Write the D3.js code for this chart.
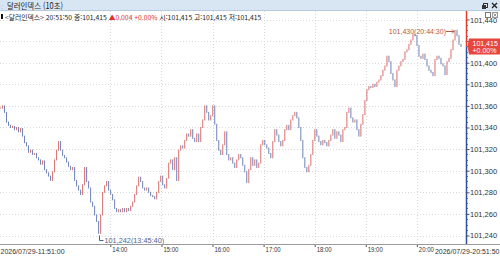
<!DOCTYPE html>
<html lang="ko">
<head>
<meta charset="UTF-8">
<title>달러인덱스 (10초)</title>
<script src="https://cdn.jsdelivr.net/npm/d3@7"></script>
<style>
    body { margin: 0; background: #fff; }
    svg text { font-family: "Liberation Sans", Arial, sans-serif; }
    svg text.kr { font-family: "Noto Sans CJK KR", "Liberation Sans", sans-serif; }
</style>
</head>
<body>
<svg id="chart" width="500" height="256"></svg>
<script>
    var closes = [
        101.358, 101.360, 101.354, 101.345, 101.342, 101.340, 101.341, 101.338, 101.340, 101.336,
        101.339, 101.332, 101.326, 101.323, 101.317, 101.319, 101.315, 101.316, 101.312, 101.310,
        101.306, 101.309, 101.301, 101.298, 101.295, 101.291, 101.299, 101.310, 101.319, 101.327,
        101.319, 101.314, 101.312, 101.308, 101.304, 101.301, 101.303, 101.291, 101.286, 101.282,
        101.278, 101.287, 101.303, 101.290, 101.284, 101.271, 101.267, 101.259, 101.253, 101.242,
        101.259, 101.280, 101.286, 101.290, 101.282, 101.278, 101.273, 101.265, 101.262, 101.264,
        101.262, 101.265, 101.262, 101.265, 101.263, 101.267, 101.271, 101.278, 101.286, 101.294,
        101.290, 101.284, 101.282, 101.284, 101.280, 101.277, 101.276, 101.274, 101.280, 101.290,
        101.295, 101.287, 101.284, 101.293, 101.307, 101.310, 101.301, 101.312, 101.291, 101.319,
        101.323, 101.321, 101.328, 101.334, 101.332, 101.338, 101.330, 101.327, 101.334, 101.327,
        101.340, 101.347, 101.360, 101.354, 101.347, 101.351, 101.360, 101.343, 101.328, 101.319,
        101.315, 101.324, 101.336, 101.315, 101.310, 101.312, 101.307, 101.303, 101.310, 101.315,
        101.312, 101.305, 101.299, 101.289, 101.301, 101.312, 101.305, 101.310, 101.303, 101.307,
        101.324, 101.328, 101.324, 101.321, 101.316, 101.312, 101.327, 101.338, 101.333, 101.327,
        101.323, 101.328, 101.338, 101.342, 101.338, 101.347, 101.351, 101.354, 101.349, 101.340,
        101.328, 101.312, 101.303, 101.299, 101.305, 101.315, 101.328, 101.338, 101.332, 101.327,
        101.324, 101.328, 101.326, 101.323, 101.328, 101.333, 101.338, 101.330, 101.336, 101.333,
        101.327, 101.338, 101.340, 101.354, 101.358, 101.349, 101.345, 101.347, 101.338, 101.332,
        101.343, 101.352, 101.365, 101.375, 101.378, 101.377, 101.380, 101.378, 101.382, 101.384,
        101.388, 101.393, 101.397, 101.406, 101.401, 101.390, 101.384, 101.378, 101.393, 101.397,
        101.401, 101.403, 101.410, 101.412, 101.417, 101.421, 101.426, 101.425, 101.416, 101.406,
        101.404, 101.408, 101.403, 101.397, 101.393, 101.391, 101.388, 101.403, 101.406, 101.404,
        101.399, 101.397, 101.389, 101.401, 101.404, 101.412, 101.421, 101.430, 101.425, 101.417,
        101.415
    ];
    var startTime = "2026-07-29T11:51:00",
        endTime = "2026-07-29T20:51:50";
    var priceTicks = [101.24, 101.26, 101.28, 101.30, 101.32, 101.34, 101.36, 101.38, 101.40, 101.42, 101.44];
    var hourTicks = ["14:00", "15:00", "16:00", "17:00", "18:00", "19:00", "20:00"];
    var endLabels = ["2026/07/29-11:51:00", "2026/07/29-20:51:50"];
    var lowLabel = ["101,242", "13:45:40"],
        highLabel = ["101,430", "20:44:30"];
    var lastInfo = ["101,415", "+0.00%"];
    var infoParts = ["<달러인덱스> 20:51:50 종:101,415 ", "▲0.004 +0.00% ", "시:101,415 고:101,415 저:101,415"];

    var svg = d3.select("#chart");
    var parse = d3.timeParse("%Y-%m-%dT%H:%M:%S");
    var t0 = parse(startTime), t1 = parse(endTime);
    var axisX = 466.5;

    var x = d3.scaleTime().domain([t0, t1]).range([0.5, 461]);
    var y = d3.scaleLinear().domain([101.24, 101.44]).range([235.5, 19.5]);
    var fmt = function(v){ return d3.format(".3f")(v).replace(".", ","); };

    // squeeze text a little to the narrow widths of the original font
    function squeeze(sel, len){
        sel.attr("textLength", len).attr("lengthAdjust", "spacingAndGlyphs");
        return sel;
    }

    // each candle sits at its own time, evenly spaced from first to last
    var step = (t1 - t0) / (closes.length - 1);
    var candles = closes.map(function(c, i){
        return {t: new Date(+t0 + i * step), o: i ? closes[i - 1] : c, c: c};
    });
    var lastY = y(closes[closes.length - 1]);

    // grid
    var grid = svg.append("g").attr("class", "grid");
    grid.selectAll(".hgrid").data(priceTicks).enter().append("line")
        .attr("x1", 0).attr("x2", axisX)
        .attr("y1", function(d){ return Math.round(y(d)) + 0.5; })
        .attr("y2", function(d){ return Math.round(y(d)) + 0.5; })
        .style("stroke", "#d9d9d9").style("stroke-dasharray", "1,2");
    var hourDates = hourTicks.map(function(h){ return parse("2026-07-29T" + h + ":00"); });
    grid.selectAll(".vgrid").data(hourDates).enter().append("line")
        .attr("x1", function(d){ return Math.round(x(d)) + 0.5; })
        .attr("x2", function(d){ return Math.round(x(d)) + 0.5; })
        .attr("y1", 11).attr("y2", 244)
        .style("stroke", "#d9d9d9").style("stroke-dasharray", "1,2");

    // candles
    svg.append("g").selectAll("rect").data(candles).enter().append("rect")
        .attr("x", function(d){ return x(d.t) - 0.5; })
        .attr("width", 1)
        .attr("y", function(d){ return y(Math.max(d.o, d.c)) - 0.5; })
        .attr("height", function(d){ return Math.max(1, Math.abs(y(d.o) - y(d.c)) + 1); })
        .style("fill", function(d){ return d.c >= d.o ? "#cf4c4c" : "#4a64a6"; })
        .style("fill-opacity", 0.8);

    // low / high marks
    var lowD = candles[d3.minIndex(candles, function(d){ return d.c; })];
    var lx = Math.round(x(lowD.t)) + 0.5;
    svg.append("path")
        .attr("d", "M" + lx + "," + (y(lowD.c) + 2) + "V240.5H" + (lx + 4))
        .style("stroke", "#4f638f").style("fill", "none");
    svg.append("text").attr("x", lx + 5).attr("y", 242.5)
        .style("font-size", "7.3px").style("fill", "#4f638f")
        .text(lowLabel[0] + "(" + lowLabel[1] + ")");

    var highD = candles[d3.maxIndex(candles, function(d){ return d.c; })];
    var hx = x(highD.t);
    svg.append("text").attr("x", hx - 9).attr("y", 34).attr("text-anchor", "end")
        .style("font-size", "7px").style("fill", "#b8574c")
        .text(highLabel[0] + "(" + highLabel[1] + ")");
    svg.append("path")
        .attr("d", "M" + (hx - 9) + ",31.5H" + (hx - 1) + "M" + (hx - 3) + ",29.5L" + (hx - 1) + ",31.5L" + (hx - 3) + ",33.5")
        .style("stroke", "#b8574c").style("fill", "none");

    // right price axis (labels hidden under the last price tag are left out)
    var yAxis = d3.axisRight(y).tickValues(priceTicks).tickSize(3).tickFormat(fmt);
    var gy = svg.append("g").attr("transform", "translate(" + axisX + ",0)").call(yAxis);
    gy.select(".domain").remove();
    gy.selectAll(".tick line").style("stroke", "#555");
    gy.selectAll(".tick text").attr("x", 3.5).style("font-size", "7.5px").style("fill", "#333");
    gy.selectAll(".tick").filter(function(d){ return Math.abs(y(d) - lastY) < 10; }).select("text").remove();
    gy.selectAll(".tick").filter(function(d){ return d === 101.44; }).select("text").attr("dy", "0.45em");
    var minor = d3.range(101.245, 101.44, 0.005).filter(function(v){ return Math.round(v * 1000) % 20 !== 0; });
    svg.append("g").selectAll("line").data(minor).enter().append("line")
        .attr("x1", axisX).attr("x2", axisX + 1.5)
        .attr("y1", function(d){ return Math.round(y(d)) + 0.5; })
        .attr("y2", function(d){ return Math.round(y(d)) + 0.5; })
        .style("stroke", "#777");
    svg.append("line").attr("x1", axisX).attr("x2", axisX).attr("y1", 11).attr("y2", lastY)
        .style("stroke", "#e23b30").style("stroke-width", 1.5);
    svg.append("line").attr("x1", axisX).attr("x2", axisX).attr("y1", lastY).attr("y2", 244)
        .style("stroke", "#2e4f9c").style("stroke-width", 1.5);

    // last price tag
    svg.append("path")
        .attr("d", "M" + (axisX + 1) + "," + lastY + "L469," + (lastY - 8) + "H500V" + (lastY + 8) + "H469Z")
        .style("fill", "#e8463c");
    svg.append("text").attr("x", 472.5).attr("y", lastY - 1)
        .style("font-size", "7px").style("fill", "#fff").text(lastInfo[0]);
    svg.append("text").attr("x", 472.5).attr("y", lastY + 6.5)
        .style("font-size", "7px").style("fill", "#fff").text(lastInfo[1]);

    // time axis
    var xAxis = d3.axisBottom(x).tickValues(hourDates).tickSize(3).tickFormat(d3.timeFormat("%H:%M"));
    var gx = svg.append("g").attr("transform", "translate(0,244)").call(xAxis);
    gx.select(".domain").remove();
    gx.selectAll(".tick line").style("stroke", "#555");
    squeeze(gx.selectAll(".tick text").attr("text-anchor", "start").attr("x", 1.5).attr("y", 3)
        .style("font-size", "7px").style("fill", "#333"), 15);
    svg.append("line").attr("x1", 0).attr("x2", 500).attr("y1", 244.5).attr("y2", 244.5)
        .style("stroke", "#9a9a9a");
    svg.append("text").attr("x", 0.5).attr("y", 253.5).style("font-size", "7px").style("fill", "#333")
        .text(endLabels[0]);
    svg.append("text").attr("x", 499.5).attr("y", 253.5).attr("text-anchor", "end")
        .style("font-size", "7px").style("fill", "#333").text(endLabels[1]);

    // title bar
    svg.append("rect").attr("x", 0).attr("y", 0).attr("width", 500).attr("height", 11).style("fill", "#d8e6f4");
    svg.append("line").attr("x1", 0).attr("x2", 500).attr("y1", 10.5).attr("y2", 10.5).style("stroke", "#b7cbe0");
    svg.append("text").attr("x", 1).attr("y", 8.5).style("font-size", "7px").style("fill", "#8aa").text(":");
    squeeze(svg.append("text").attr("class", "kr").attr("x", 7).attr("y", 8.8)
        .style("font-size", "8.5px").style("fill", "#1a1a1a").text("달러인덱스 (10초)"), 56);
    svg.append("rect").attr("x", 483.5).attr("y", 3.5).attr("width", 4).attr("height", 4)
        .style("fill", "none").style("stroke", "#333");
    svg.append("rect").attr("x", 482).attr("y", 5).attr("width", 4).attr("height", 4).style("fill", "#333");
    svg.append("path").attr("d", "M492,3L497,8M497,3L492,8").style("stroke", "#222").style("stroke-width", 1.3);

    // info line
    svg.append("rect").attr("x", 1).attr("y", 14).attr("width", 2).attr("height", 5).style("fill", "#111");
    var info = svg.append("text").attr("class", "kr").attr("x", 5).attr("y", 20)
        .style("font-size", "6.8px").style("fill", "#222");
    info.selectAll("tspan").data(infoParts).enter().append("tspan")
        .style("fill", function(d, i){ return i === 1 ? "#e0302a" : "#222"; })
        .text(function(d){ return d; });

    // small pane buttons
    svg.append("rect").attr("x", 485.5).attr("y", 12.5).attr("width", 5).attr("height", 5)
        .style("fill", "#fff").style("stroke", "#777");
    svg.append("rect").attr("x", 492.5).attr("y", 12.5).attr("width", 5).attr("height", 5)
        .style("fill", "#fff").style("stroke", "#999");
    svg.append("path").attr("d", "M493.5,13.5L496.5,16.5M496.5,13.5L493.5,16.5").style("stroke", "#999");
</script>
</body>
</html>
